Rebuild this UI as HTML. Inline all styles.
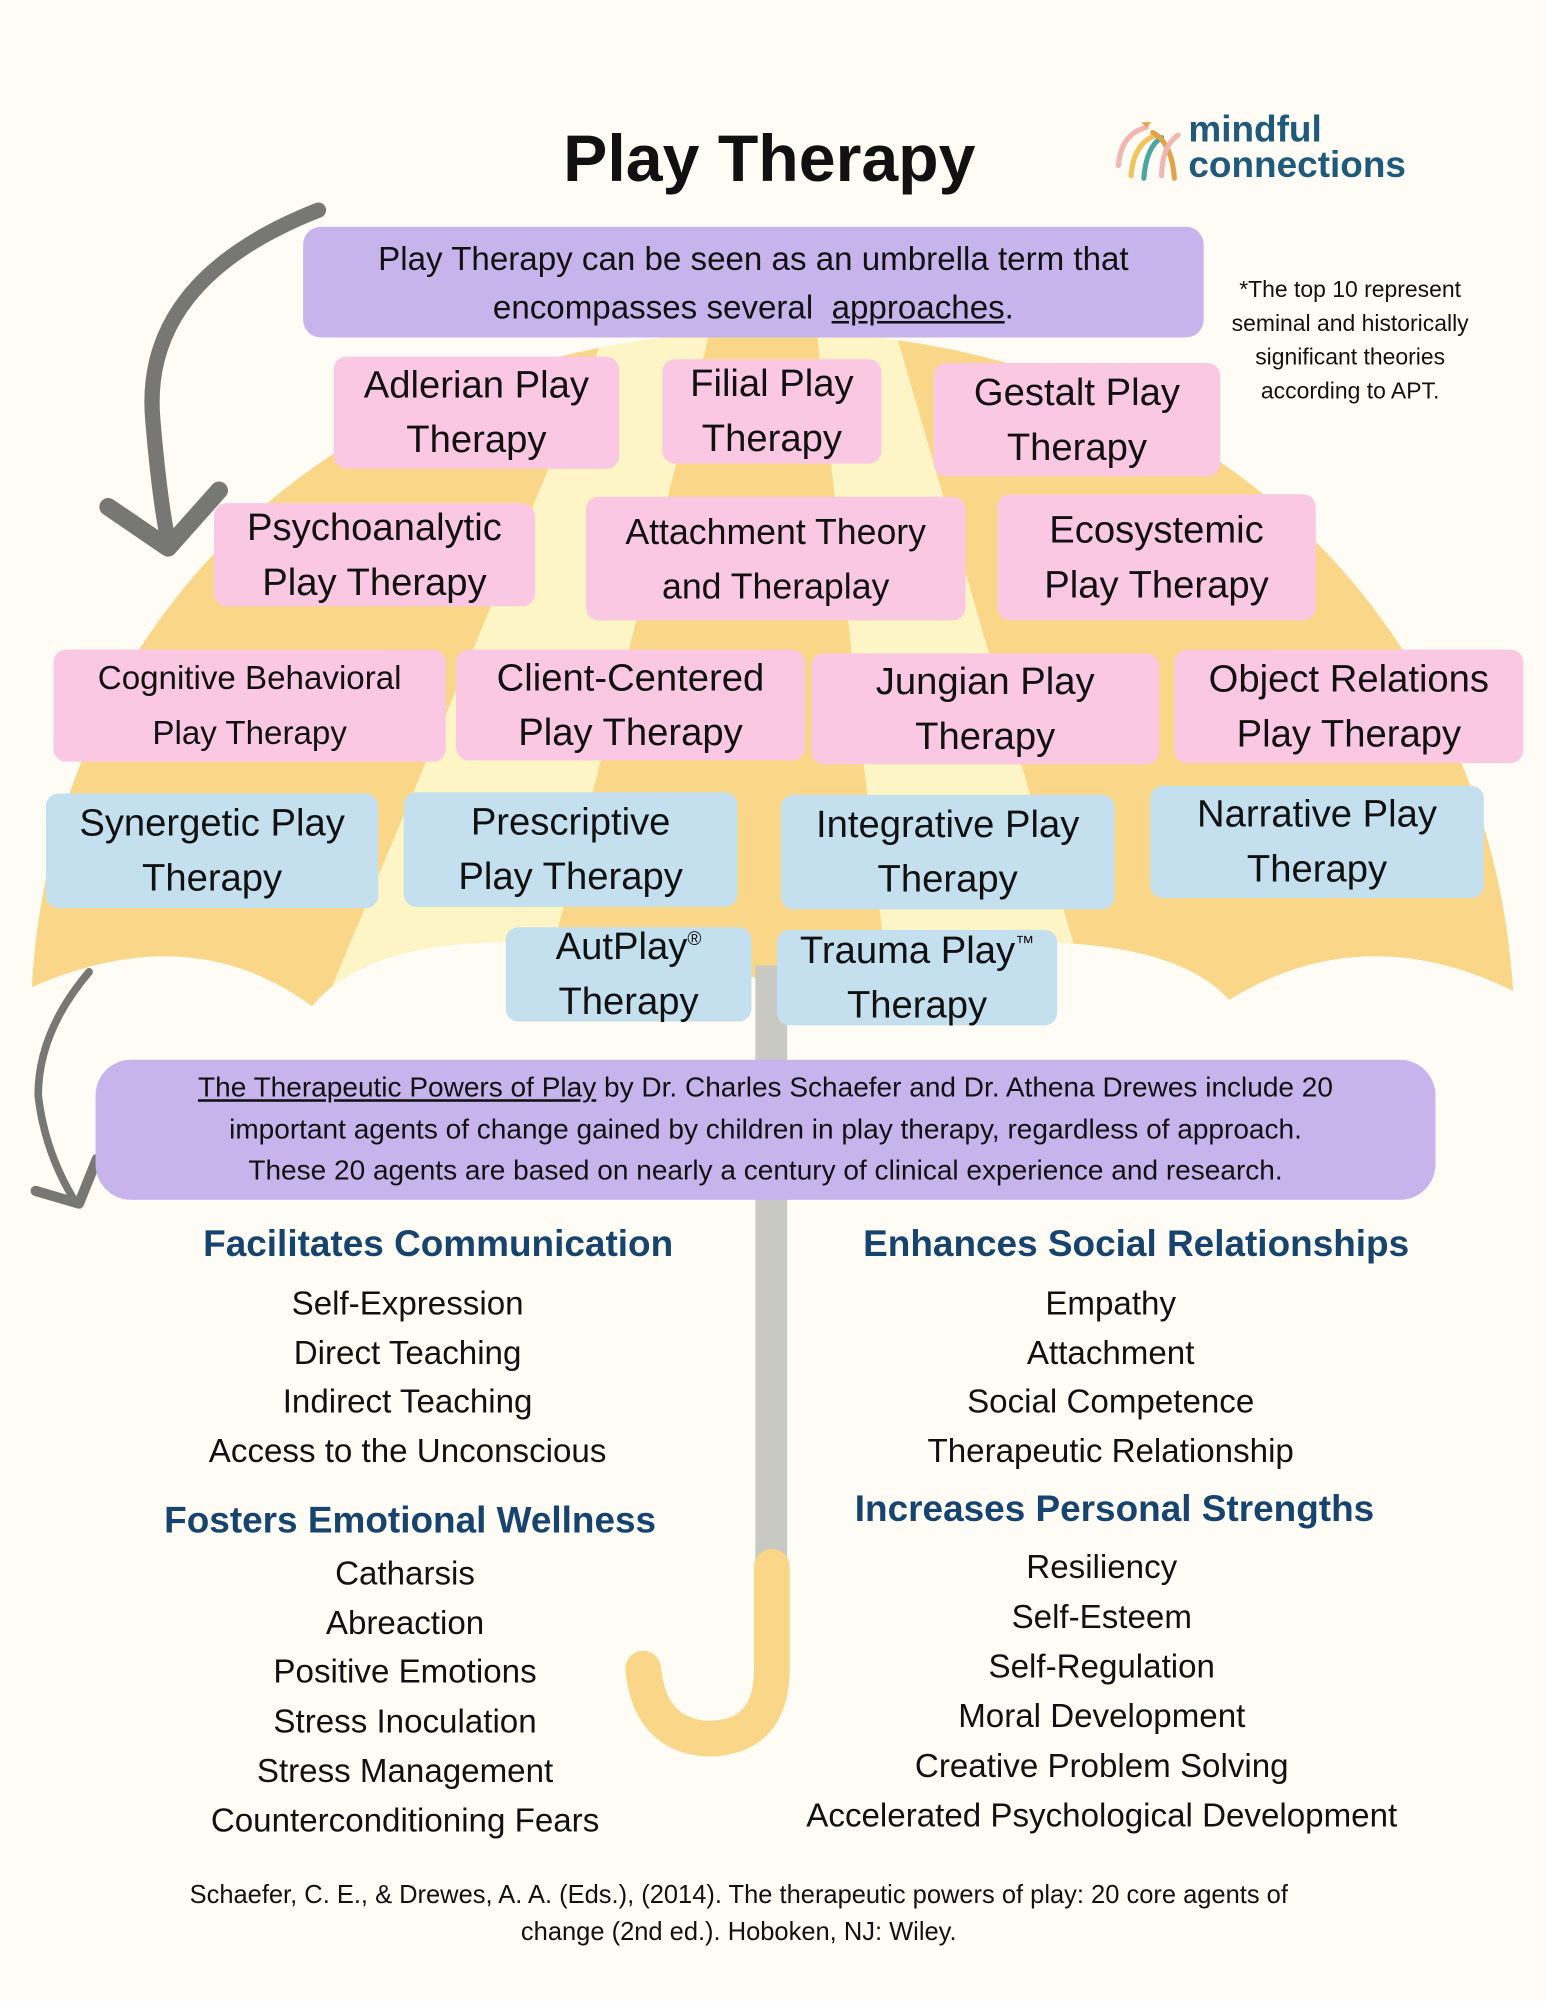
<!DOCTYPE html>
<html><head><meta charset="utf-8"><style>
html,body{margin:0;padding:0;}
body{width:1545px;height:2000px;overflow:hidden;background:#fefcf5;}
#w{position:absolute;left:0;top:0;width:1213px;height:1571px;transform:scale(1.27372);transform-origin:0 0;font-family:"Liberation Sans",sans-serif;color:#111;}
.b{position:absolute;display:flex;align-items:center;justify-content:center;text-align:center;border-radius:10px;font-size:30px;line-height:43px;color:#111;}
.b>div{white-space:nowrap;}
.p{background:#fbc8e3;}
.u{background:#c4dfee;}
.t{position:absolute;text-align:center;white-space:nowrap;}
.h{font-weight:bold;color:#17446e;font-size:29px;}
.i{font-size:26px;}
</style></head><body><div id="w">
<svg width="1213" height="1571" style="position:absolute;left:0;top:0">
 <defs>
  <clipPath id="c"><path d="M25,775 C40,500 250,262 606,260 C960,262 1170,500 1188,778 Q1070,720 965,785 Q920,735 780,740 Q700,735 600,770 Q500,735 420,740 Q290,735 245,790 Q150,720 25,775 Z"/></clipPath>
 </defs>
 <g clip-path="url(#c)">
  <rect x="0" y="200" width="1213" height="620" fill="#f9d688"/>
  <polygon points="480,250 560,250 420,800 250,800" fill="#fdf5c6"/>
  <polygon points="640,250 700,250 860,800 700,800" fill="#fdf5c6"/>
 </g>
 <rect x="593" y="758" width="25" height="475" fill="#c9c9c4"/>
 <path d="M606,1230 L606,1310 Q606,1365 555,1365 Q510,1362 505,1310" fill="none" stroke="#f9d688" stroke-width="28" stroke-linecap="round"/>
 <path d="M250,165 Q110,220 120,330 Q125,390 132,425" fill="none" stroke="#777773" stroke-width="12" stroke-linecap="round"/>
 <path d="M85,398 L132,430 L172,385" fill="none" stroke="#777773" stroke-width="14" stroke-linecap="round" stroke-linejoin="round"/>
 <path d="M70,763 Q30,810 30,860 Q35,905 60,945" fill="none" stroke="#777773" stroke-width="6" stroke-linecap="round"/>
 <path d="M28,935 L62,945 L76,910" fill="none" stroke="#777773" stroke-width="8" stroke-linecap="round" stroke-linejoin="round"/>
 <g fill="none" stroke-width="4" stroke-linecap="round">
  <path d="M878,130 Q880,105 900,100" stroke="#f2b6b0"/>
  <path d="M888,138 Q890,112 908,106" stroke="#f2c35a"/>
  <path d="M898,140 Q900,115 912,108" stroke="#4aa6a4"/>
  <path d="M922,140 Q920,112 905,104" stroke="#e2a24a"/>
  <path d="M912,138 Q912,115 925,106" stroke="#f2b6b0"/>
 </g>
 <path d="M896,96 l4,4 l4,-4" fill="#e2a24a"/>
</svg>
<div class="t" style="left:404px;top:95px;width:400px;font-size:52px;font-weight:bold;">Play Therapy</div>
<div class="t" style="left:933px;top:88px;font-size:29px;font-weight:bold;color:#1f5a7a;line-height:28px;text-align:left;">mindful<br>connections</div>
<div class="b" style="left:238px;top:178px;width:707px;height:87px;background:#c8b4ec;border-radius:14px;font-size:26px;line-height:38px;"><div>Play Therapy can be seen as an umbrella term that<br>encompasses several &nbsp;<u>approaches</u>.</div></div>
<div class="t" style="left:965px;top:214px;width:190px;font-size:18px;line-height:26.7px;white-space:normal;">*The top 10 represent seminal and historically significant theories according to APT.</div>
<div class="b p" style="left:262px;top:280px;width:224px;height:88px;"><div>Adlerian Play<br>Therapy</div></div>
<div class="b p" style="left:520px;top:282px;width:172px;height:82px;"><div>Filial Play<br>Therapy</div></div>
<div class="b p" style="left:733px;top:285px;width:225px;height:89px;"><div>Gestalt Play<br>Therapy</div></div>
<div class="b p" style="left:168px;top:395px;width:252px;height:81px;"><div>Psychoanalytic<br>Play Therapy</div></div>
<div class="b p" style="left:460px;top:390px;width:298px;height:97px;font-size:28px;"><div>Attachment Theory<br>and Theraplay</div></div>
<div class="b p" style="left:783px;top:388px;width:250px;height:99px;"><div>Ecosystemic<br>Play Therapy</div></div>
<div class="b p" style="left:42px;top:510px;width:308px;height:88px;font-size:26px;"><div>Cognitive Behavioral<br>Play Therapy</div></div>
<div class="b p" style="left:358px;top:510px;width:274px;height:87px;"><div>Client-Centered<br>Play Therapy</div></div>
<div class="b p" style="left:637px;top:513px;width:273px;height:87px;"><div>Jungian Play<br>Therapy</div></div>
<div class="b p" style="left:922px;top:510px;width:274px;height:89px;"><div>Object Relations<br>Play Therapy</div></div>
<div class="b u" style="left:36px;top:623px;width:261px;height:90px;"><div>Synergetic Play<br>Therapy</div></div>
<div class="b u" style="left:317px;top:622px;width:262px;height:90px;"><div>Prescriptive<br>Play Therapy</div></div>
<div class="b u" style="left:613px;top:624px;width:262px;height:90px;"><div>Integrative Play<br>Therapy</div></div>
<div class="b u" style="left:903px;top:617px;width:262px;height:88px;"><div>Narrative Play<br>Therapy</div></div>
<div class="b u" style="left:397px;top:728px;width:193px;height:74px;"><div>AutPlay<sup style="font-size:15px;line-height:0">®</sup><br>Therapy</div></div>
<div class="b u" style="left:610px;top:730px;width:220px;height:75px;"><div>Trauma Play<sup style="font-size:15px;line-height:0">™</sup><br>Therapy</div></div>
<div class="b" style="left:75px;top:832px;width:1052px;height:110px;background:#c8b4ec;border-radius:28px;font-size:22px;line-height:32.5px;"><div><u>The Therapeutic Powers of Play</u> by Dr. Charles Schaefer and Dr. Athena Drewes include 20<br>important agents of change gained by children in play therapy, regardless of approach.<br>These 20 agents are based on nearly a century of clinical experience and research.</div></div>
<div class="t h" style="left:44px;top:961px;width:600px;">Facilitates Communication</div>
<div class="t i" style="left:20px;top:1004px;width:600px;line-height:38.7px;">Self-Expression<br>Direct Teaching<br>Indirect Teaching<br>Access to the Unconscious</div>
<div class="t h" style="left:592px;top:961px;width:600px;">Enhances Social Relationships</div>
<div class="t i" style="left:572px;top:1004px;width:600px;line-height:38.7px;">Empathy<br>Attachment<br>Social Competence<br>Therapeutic Relationship</div>
<div class="t h" style="left:22px;top:1178px;width:600px;">Fosters Emotional Wellness</div>
<div class="t i" style="left:18px;top:1216px;width:600px;line-height:38.7px;">Catharsis<br>Abreaction<br>Positive Emotions<br>Stress Inoculation<br>Stress Management<br>Counterconditioning Fears</div>
<div class="t h" style="left:575px;top:1169px;width:600px;">Increases Personal Strengths</div>
<div class="t i" style="left:565px;top:1211px;width:600px;line-height:39px;">Resiliency<br>Self-Esteem<br>Self-Regulation<br>Moral Development<br>Creative Problem Solving<br>Accelerated Psychological Development</div>
<div class="t" style="left:30px;top:1474px;width:1100px;font-size:20px;line-height:29px;">Schaefer, C. E., &amp; Drewes, A. A. (Eds.), (2014). The therapeutic powers of play: 20 core agents of<br>change (2nd ed.). Hoboken, NJ: Wiley.</div>
</div></body></html>
